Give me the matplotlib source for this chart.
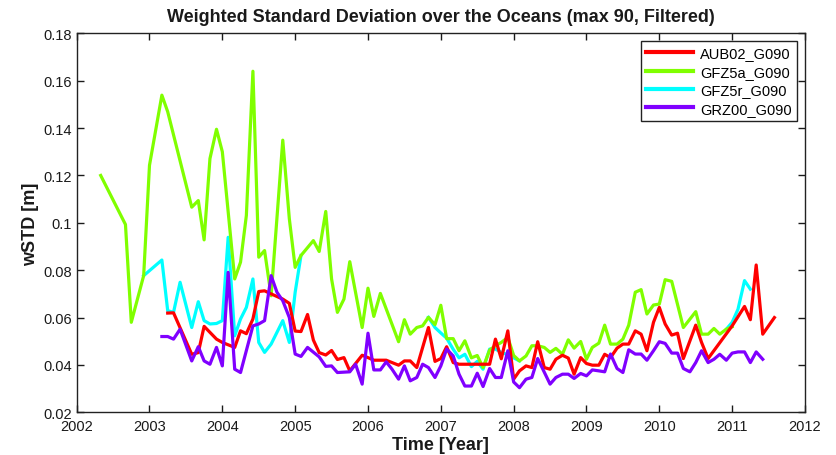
import matplotlib
matplotlib.use('Agg')
import matplotlib.pyplot as plt
import numpy as np
from matplotlib.ticker import FuncFormatter

plt.rcParams['font.family'] = ['Liberation Sans', 'DejaVu Sans']

nan = np.nan

# ---------------- data ----------------
aub_t = [2003.25, 2003.33, 2003.58, 2003.67, 2003.75, 2003.92, 2004.00, 2004.17, 2004.25, 2004.33,
         2004.42, 2004.50, 2004.58, 2004.67, 2004.83, 2004.92, 2005.00, 2005.08, 2005.17, 2005.25,
         2005.33, 2005.42, 2005.50, 2005.58, 2005.67, 2005.75, 2005.92, 2006.00, 2006.08, 2006.25,
         2006.42, 2006.50, 2006.58, 2006.67, 2006.83, 2006.92, 2007.00, 2007.08, 2007.17, 2007.25,
         2007.42, 2007.67, 2007.75, 2007.83, 2007.92, 2008.00, 2008.08, 2008.17, 2008.25, 2008.33,
         2008.42, 2008.50, 2008.58, 2008.67, 2008.75, 2008.83, 2008.92, 2009.00, 2009.08, 2009.17,
         2009.25, 2009.33, 2009.42, 2009.50, 2009.58, 2009.67, 2009.75, 2009.83, 2009.92, 2010.00,
         2010.08, 2010.17, 2010.25, 2010.33, 2010.50, 2010.58, 2010.67, 2011.00, 2011.17, 2011.25,
         2011.33, 2011.42, 2011.58]
aub_v = [0.0619, 0.0620, 0.0445, 0.0452, 0.0563, 0.0509, 0.0495, 0.0474, 0.0544, 0.0532,
         0.0594, 0.0710, 0.0713, 0.0700, 0.0678, 0.0660, 0.0543, 0.0541, 0.0613, 0.0505,
         0.0452, 0.0442, 0.0461, 0.0423, 0.0431, 0.0375, 0.0441, 0.0431, 0.0420, 0.0420,
         0.0399, 0.0417, 0.0417, 0.0389, 0.0558, 0.0415, 0.0427, 0.0477, 0.0410, 0.0403,
         0.0403, 0.0403, 0.0509, 0.0426, 0.0544, 0.0340, 0.0375, 0.0396, 0.0389, 0.0498,
         0.0389, 0.0382, 0.0424, 0.0441, 0.0429, 0.0361, 0.0431, 0.0406, 0.0399, 0.0399,
         0.0445, 0.0431, 0.0471, 0.0488, 0.0488, 0.0544, 0.0530, 0.0460, 0.0580, 0.0643,
         0.0573, 0.0526, 0.0534, 0.0427, 0.0568, 0.0495, 0.0427, 0.0565, 0.0647, 0.0591,
         0.0822, 0.0530, 0.0600]

gfz5a_t = [2002.33, 2002.67, 2002.75, 2002.92, 2003.00, 2003.17, 2003.25, 2003.58, 2003.67, 2003.75,
           2003.83, 2003.92, 2004.00, 2004.17, 2004.25, 2004.33, 2004.42, 2004.50, 2004.58, 2004.67,
           2004.83, 2004.92, 2005.00, 2005.08, 2005.25, 2005.33, 2005.42, 2005.50, 2005.58, 2005.67,
           2005.75, 2005.92, 2006.00, 2006.08, 2006.17, 2006.42, 2006.50, 2006.58, 2006.67, 2006.75,
           2006.83, 2006.92, 2007.00, 2007.08, 2007.17, 2007.25, 2007.33, 2007.42, 2007.50, 2007.58,
           2007.67, 2007.75, 2007.83, 2007.92, 2008.00, 2008.08, 2008.17, 2008.25, 2008.33, 2008.42,
           2008.50, 2008.58, 2008.67, 2008.75, 2008.83, 2008.92, 2009.00, 2009.08, 2009.17, 2009.25,
           2009.33, 2009.42, 2009.50, 2009.58, 2009.67, 2009.75, 2009.83, 2009.92, 2010.00, 2010.08,
           2010.17, 2010.33, 2010.50, 2010.58, 2010.67, 2010.75, 2010.83, 2010.92, 2011.00]
gfz5a_v = [0.1200, 0.0993, 0.0580, 0.0777, 0.1243, 0.1539, 0.1469, 0.1066, 0.1094, 0.0928,
           0.1271, 0.1395, 0.1300, 0.0763, 0.0834, 0.1031, 0.1640, 0.0855, 0.0883, 0.0692,
           0.1349, 0.1017, 0.0812, 0.0862, 0.0925, 0.0879, 0.1048, 0.0763, 0.0622, 0.0678,
           0.0836, 0.0558, 0.0724, 0.0605, 0.0702, 0.0498, 0.0591, 0.0530, 0.0558, 0.0565,
           0.0601, 0.0570, 0.0652, 0.0511, 0.0511, 0.0460, 0.0502, 0.0430, 0.0440, 0.0389,
           0.0463, 0.0481, 0.0495, 0.0516, 0.0440, 0.0417, 0.0438, 0.0481, 0.0481, 0.0474,
           0.0453, 0.0470, 0.0445, 0.0506, 0.0471, 0.0499, 0.0424, 0.0474, 0.0492, 0.0568,
           0.0488, 0.0488, 0.0509, 0.0568, 0.0707, 0.0718, 0.0615, 0.0653, 0.0657, 0.0760,
           0.0753, 0.0558, 0.0625, 0.0530, 0.0530, 0.0554, 0.0530, 0.0551, 0.0561]

# GFZ5r: only the parts that are visible (elsewhere hidden under GFZ5a)
gfz5r_t = [2002.92, 2003.17, 2003.25, 2003.33, 2003.42, 2003.58, 2003.67, 2003.75, 2003.83, 2003.92,
           2004.00, 2004.08, 2004.17, 2004.25, 2004.33, 2004.42, 2004.50, 2004.58, 2004.67, 2004.83,
           2004.92, 2005.00, 2005.08, 2005.20,
           2006.83, 2006.92, 2007.00, 2007.08, 2007.17, 2007.25, 2007.33, 2007.42, 2007.50, 2007.58,
           2007.67, 2007.75, 2007.83, 2007.92, 2008.00, 2008.08, 2008.50,
           2010.92, 2011.00, 2011.08, 2011.17, 2011.25]
gfz5r_v = [0.0777, 0.0843, 0.0629, 0.0622, 0.0749, 0.0558, 0.0667, 0.0587, 0.0573, 0.0575,
           0.0587, 0.0939, 0.0523, 0.0594, 0.0643, 0.0763, 0.0495, 0.0453, 0.0488, 0.0587,
           0.0495, 0.0707, 0.0862, nan,
           0.0601, 0.0558, 0.0535, 0.0513, 0.0466, 0.0430, 0.0445, 0.0393, 0.0415, 0.0382,
           0.0467, 0.0467, 0.0453, 0.0443, 0.0430, 0.0417, nan,
           0.0551, 0.0580, 0.0635, 0.0756, 0.0720]

grz_t = [2003.17, 2003.25, 2003.33, 2003.42, 2003.58, 2003.67, 2003.75, 2003.83, 2003.92, 2004.00,
         2004.08, 2004.17, 2004.25, 2004.42, 2004.50, 2004.58, 2004.67, 2004.75, 2004.83, 2004.92,
         2005.00, 2005.08, 2005.17, 2005.33, 2005.42, 2005.50, 2005.58, 2005.75, 2005.83, 2005.92,
         2006.00, 2006.08, 2006.17, 2006.25, 2006.33, 2006.42, 2006.50, 2006.58, 2006.67, 2006.75,
         2006.83, 2006.92, 2007.00, 2007.08, 2007.17, 2007.25, 2007.33, 2007.42, 2007.50, 2007.58,
         2007.67, 2007.75, 2007.83, 2007.92, 2008.00, 2008.08, 2008.17, 2008.25, 2008.33, 2008.50,
         2008.58, 2008.67, 2008.75, 2008.83, 2008.92, 2009.00, 2009.08, 2009.17, 2009.25, 2009.33,
         2009.42, 2009.50, 2009.58, 2009.67, 2009.75, 2009.83, 2009.92, 2010.00, 2010.08, 2010.17,
         2010.25, 2010.33, 2010.42, 2010.50, 2010.58, 2010.67, 2010.75, 2010.83, 2010.92, 2011.00,
         2011.08, 2011.17, 2011.25, 2011.33, 2011.42]
grz_v = [0.0520, 0.0520, 0.0509, 0.0551, 0.0417, 0.0477, 0.0417, 0.0403, 0.0474, 0.0396,
         0.0791, 0.0382, 0.0368, 0.0565, 0.0573, 0.0587, 0.0777, 0.0707, 0.0671, 0.0600,
         0.0446, 0.0436, 0.0474, 0.0434, 0.0394, 0.0396, 0.0368, 0.0371, 0.0403, 0.0319,
         0.0534, 0.0379, 0.0379, 0.0413, 0.0382, 0.0340, 0.0396, 0.0333, 0.0347, 0.0403,
         0.0389, 0.0347, 0.0396, 0.0467, 0.0438, 0.0361, 0.0311, 0.0311, 0.0365, 0.0309,
         0.0385, 0.0347, 0.0347, 0.0460, 0.0328, 0.0304, 0.0340, 0.0347, 0.0427, 0.0319,
         0.0347, 0.0361, 0.0361, 0.0343, 0.0364, 0.0354, 0.0379, 0.0375, 0.0371, 0.0446,
         0.0385, 0.0368, 0.0464, 0.0446, 0.0446, 0.0420, 0.0460, 0.0498, 0.0491, 0.0450,
         0.0450, 0.0385, 0.0371, 0.0410, 0.0460, 0.0410, 0.0424, 0.0445, 0.0420, 0.0450,
         0.0455, 0.0455, 0.0410, 0.0455, 0.0424]

labels = ['AUB02_G090', 'GFZ5a_G090', 'GFZ5r_G090', 'GRZ00_G090']
colors = ['#ff0000', '#80ff00', '#00ffff', '#8000ff']

y_ticks = [0.02, 0.04, 0.06, 0.08, 0.10, 0.12, 0.14, 0.16, 0.18]
x_ticks = list(range(2002, 2013))

# ---------------- plot ----------------
fig = plt.figure(figsize=(8.36, 4.56), dpi=100)
ax = fig.add_axes([0.0917, 0.0936, 0.8712, 0.8311])

lw = 2.3
h_aub, = ax.plot(aub_t, aub_v, color=colors[0], lw=lw, zorder=3, label=labels[0])
h_gfr, = ax.plot(gfz5r_t, gfz5r_v, color=colors[2], lw=lw, zorder=2, label=labels[2])
h_gfa, = ax.plot(gfz5a_t, gfz5a_v, color=colors[1], lw=lw, zorder=2.5, label=labels[1])
h_grz, = ax.plot(grz_t, grz_v, color=colors[3], lw=lw, zorder=4, label=labels[3])

ax.set_xlim(2002, 2012)
ax.set_ylim(0.02, 0.18)
ax.set_xticks(x_ticks)
ax.set_yticks(y_ticks)
ax.yaxis.set_major_formatter(FuncFormatter(lambda v, p: f'{v:g}'))
ax.tick_params(direction='in', top=True, right=True, length=5, width=1,
               labelsize=10.5, colors='#1a1a1a')
ax.tick_params(axis='x', pad=5)
ax.tick_params(axis='y', pad=3.5)
for s in ax.spines.values():
    s.set_linewidth(1.0)
    s.set_color('#222222')

ax.set_title('Weighted Standard Deviation over the Oceans (max 90, Filtered)',
             fontsize=13, fontweight='bold', pad=9, color='#1a1a1a')
ax.set_xlabel('Time [Year]', fontsize=13, fontweight='bold', labelpad=2, color='#1a1a1a')
ax.set_ylabel('wSTD [m]', fontsize=13, fontweight='bold', labelpad=3, color='#1a1a1a')

leg = ax.legend(handles=[h_aub, h_gfa, h_gfr, h_grz], loc='upper right',
                fontsize=10.5, handlelength=3.2, handletextpad=0.5, labelspacing=0.3,
                borderaxespad=0.55, borderpad=0.35, fancybox=False, framealpha=1,
                edgecolor='#222222')
leg.get_frame().set_linewidth(1.0)
for line in leg.get_lines():
    line.set_linewidth(3.0)

fig.savefig('out.png', dpi=100)
